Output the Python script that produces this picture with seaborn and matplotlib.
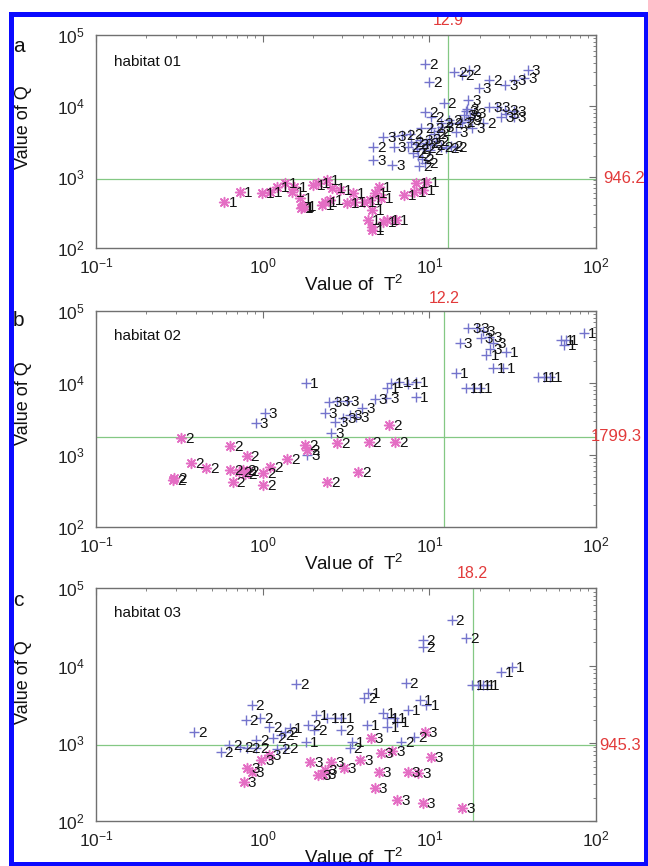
import numpy as np
import pandas as pd
import matplotlib
matplotlib.use('Agg')
import matplotlib.pyplot as plt
import matplotlib.transforms as mtransforms
from matplotlib.patches import Rectangle
import seaborn as sns

# ---------------- data ----------------
# habitat 01
a_plus_t2 = [9.4, 10.0, 14.1, 15.6, 17.2, 19.8, 22.8, 28.6, 32, 37,
             39, 17.1, 12.2, 9.4, 10.2, 13.1, 11.7, 22.8, 25.6, 28.6,
             32, 32, 29, 27, 21, 18.1, 14.4, 16.1, 16.5, 17.1,
             15.2, 16.8, 17.5, 15.8, 18.5, 13.4, 11.9, 10.2, 8.9, 11.3,
             5.3, 6.1, 6.9, 7.7, 4.6, 6.1, 7.4, 4.6, 6.0, 7.8,
             8.3, 8.8, 9.2, 9.6, 10.1, 8.0, 8.6, 9.0, 9.4, 8.4,
             9.9, 10.4, 8.7, 11.7, 12.6, 13.4, 14.2, 11.0, 10.6]
a_plus_q = [39100, 22000, 30100, 27000, 32000, 17900, 23200, 19800, 23200, 25000,
            32100, 12200, 11000, 8200, 7000, 6350, 5700, 9700, 9700, 8800,
            8400, 7000, 7800, 7000, 5760, 4900, 4300, 7400, 8500, 6300,
            5700, 9200, 7000, 6000, 8000, 5700, 5100, 4900, 4900, 4400,
            3660, 3800, 3900, 4000, 2650, 2650, 2650, 1730, 1470, 3100,
            2900, 3300, 2600, 3000, 2400, 2200, 2000, 1800, 1600, 2500,
            3400, 2800, 1450, 2650, 2600, 2700, 2650, 3200, 4000]
a_plus_lab = [2, 2, 2, 2, 2, 3, 2, 3, 3, 3,
              3, 3, 2, 2, 2, 2, 2, 3, 3, 3,
              3, 3, 3, 3, 2, 3, 3, 3, 3, 3,
              3, 3, 3, 2, 3, 2, 3, 2, 2, 2,
              3, 3, 2, 2, 2, 3, 2, 3, 3, 2,
              2, 3, 2, 2, 2, 2, 2, 2, 2, 2,
              3, 2, 2, 2, 2, 2, 2, 2, 2]
a_star_t2 = [0.59, 0.73, 0.99, 1.11, 1.22, 1.36, 1.50, 1.55, 1.68, 1.73,
             1.70, 1.76, 2.01, 2.15, 2.44, 2.62, 2.37, 2.28, 2.55, 2.92,
             3.2, 3.5, 3.55, 4.04, 4.4, 4.7, 4.97, 5.1, 4.5, 4.3,
             4.5, 4.55, 5.6, 6.3, 7.0, 8.1, 8.3, 9.1, 9.6, 5.3]
a_star_q = [449, 621, 595, 610, 720, 820, 610, 720, 505, 378,
            370, 390, 770, 820, 900, 700, 445, 400, 470, 655,
            430, 595, 450, 440, 474, 595, 720, 510, 343, 248,
            180, 200, 248, 248, 560, 615, 820, 650, 840, 230]
a_star_lab = [1] * len(a_star_t2)

# habitat 02
b_plus_t2 = [1.82, 1.03, 0.91, 2.36, 2.50, 2.81, 3.2, 2.72, 3.05, 3.33,
             3.63, 3.96, 2.57, 1.85, 4.7, 5.5, 5.6, 5.9, 6.6, 7.4,
             8.3, 8.3, 14.5, 15.2, 17.1, 19.2, 20.9, 20.3, 22.8, 24.2,
             22.0, 23.0, 28.7, 24.2, 27.8, 16.6, 18.3, 20.2, 45, 49,
             53, 62, 64, 66, 85]
b_plus_q = [10100, 3870, 2810, 3790, 5500, 5650, 5650, 2900, 3230, 3590,
            3400, 4450, 2000, 1000, 6000, 6100, 8440, 10000, 10300, 9800,
            10300, 6400, 13600, 35600, 57500, 57500, 53000, 41700, 43000, 35600,
            24500, 29700, 27300, 16000, 16000, 8440, 8440, 8440, 12200, 12200,
            12200, 39500, 33700, 39500, 49000]
b_plus_lab = [1, 3, 3, 3, 3, 3, 3, 3, 3, 3,
              3, 3, 3, 3, 3, 3, 1, 1, 1, 1,
              1, 1, 1, 3, 3, 3, 3, 3, 3, 3,
              1, 3, 1, 1, 1, 1, 1, 1, 1, 1,
              1, 1, 1, 1, 1]
b_star_t2 = [0.324, 0.372, 0.459, 0.289, 0.293, 0.635, 0.635, 0.66, 0.80, 0.72,
             0.76, 0.80, 0.78, 1.01, 1.01, 1.11, 1.40, 1.80, 1.85, 2.43,
             2.81, 4.32, 3.73, 5.74, 6.26]
b_star_q = [1710, 782, 653, 450, 475, 1334, 620, 427, 968, 580,
            620, 590, 540, 556, 383, 688, 870, 1377, 1170, 427,
            1450, 1500, 586, 2610, 1510]
b_star_lab = [2] * len(b_star_t2)

# habitat 03
c_plus_t2 = [13.6, 16.6, 9.1, 9.1, 27, 31.2, 18.1, 19.7, 20.9, 22.1,
             1.58, 7.2, 4.06, 4.3, 8.8, 9.6, 7.4, 5.27, 5.6, 6.1,
             6.4, 4.2, 5.6, 0.86, 0.79, 0.97, 1.09, 0.386, 0.56, 0.63,
             0.73, 0.81, 0.91, 0.91, 1.15, 1.29, 1.37, 1.45, 1.22, 1.37,
             2.1, 1.87, 2.04, 1.82, 2.43, 2.72, 2.97, 2.97, 3.43, 3.33,
             6.8, 8.1]
c_plus_q = [38600, 22500, 21300, 17500, 8350, 9600, 5620, 5620, 5620, 5620,
            5800, 5970, 3800, 4400, 3610, 3110, 2690, 2430, 2100, 2100,
            1900, 1720, 1640, 3110, 2000, 2100, 1640, 1410, 780, 950,
            900, 880, 870, 1100, 1160, 1280, 1410, 1560, 850, 870,
            2320, 1720, 1490, 1050, 2100, 2100, 2100, 1490, 1050, 860,
            1050, 1220]
c_plus_lab = [2, 2, 2, 2, 1, 1, 1, 1, 1, 1,
              2, 2, 2, 1, 1, 1, 1, 1, 1, 1,
              1, 1, 1, 2, 2, 2, 2, 2, 2, 2,
              2, 2, 2, 2, 2, 2, 2, 1, 2, 2,
              1, 2, 2, 1, 1, 1, 1, 2, 1, 2,
              2, 2]
c_star_t2 = [0.77, 0.81, 0.86, 0.98, 1.09, 1.93, 2.16, 2.36, 2.58, 3.06,
             3.85, 4.44, 5.1, 4.98, 4.7, 6.4, 7.4, 8.6, 9.4, 10.2,
             9.1, 15.7, 2.3, 6.0]
c_star_q = [320, 476, 432, 610, 706, 580, 390, 453, 580, 476,
            610, 1160, 743, 432, 263, 186, 432, 411, 1410, 673,
            169, 146, 400, 800]
c_star_lab = [3] * len(c_star_t2)

habitats = ['habitat 01', 'habitat 02', 'habitat 03']
panel_letters = ['a', 'b', 'c']
t2_limits = [12.9, 12.2, 18.2]
q_limits = [946.2, 1799.3, 945.3]

# ---------------- style ----------------
sns.set_style('white')
plt.rcParams['font.family'] = ['Liberation Sans', 'DejaVu Sans']
plt.rcParams['mathtext.fontset'] = 'custom'
plt.rcParams['mathtext.rm'] = 'Liberation Sans'
plt.rcParams['mathtext.it'] = 'Liberation Sans:italic'
plt.rcParams['mathtext.bf'] = 'Liberation Sans:bold'
plt.rcParams['axes.unicode_minus'] = False

plus_color = '#7474cc'
star_color = '#e46ec4'
line_color = '#84c884'
red = '#e23a3a'
spine_color = '#707070'

W, H = 648, 866
fig = plt.figure(figsize=(W / 100, H / 100), dpi=100)

# axes boxes in pixels (top, bottom)
boxes = [(35, 248), (311, 527), (588, 821)]
left_px, right_px = 96, 596
ylab_y = [0.568, 0.574, 0.594]
xlab_y = [-0.125, -0.124, -0.115]
vlab_y = [1.07, 1.06, 1.064]
hlab_x = [1.014, 0.99, 1.006]
letter_y = [47, 320, 601]
hab_y = [0.873, 0.884, 0.893]

panels = [
    (a_plus_t2, a_plus_q, a_plus_lab, a_star_t2, a_star_q, a_star_lab),
    (b_plus_t2, b_plus_q, b_plus_lab, b_star_t2, b_star_q, b_star_lab),
    (c_plus_t2, c_plus_q, c_plus_lab, c_star_t2, c_star_q, c_star_lab),
]

for i, (pt, pq, pl, st, sq, sl) in enumerate(panels):
    top, bot = boxes[i]
    ax = fig.add_axes([left_px / W, 1 - bot / H, (right_px - left_px) / W, (bot - top) / H])

    df_plus = pd.DataFrame({'T2': pt, 'Q': pq, 'cluster': pl})
    df_star = pd.DataFrame({'T2': st, 'Q': sq, 'cluster': sl})

    sns.scatterplot(data=df_plus, x='T2', y='Q', marker='+', color=plus_color,
                    s=60, linewidth=1.0, ax=ax, zorder=3)
    sns.scatterplot(data=df_star, x='T2', y='Q', marker=(8, 2, 0), color=star_color,
                    s=50, linewidth=1.1, ax=ax, zorder=3)

    off = mtransforms.offset_copy(ax.transData, fig=fig, x=4, y=-1, units='dots')
    for df in (df_plus, df_star):
        for x, y, lab in zip(df['T2'], df['Q'], df['cluster']):
            ax.text(x, y, str(lab), transform=off, ha='left', va='center',
                    fontsize=11, color='#111111', zorder=4)

    ax.set_xscale('log')
    ax.set_yscale('log')
    ax.set_xlim(0.1, 100)
    ax.set_ylim(100, 1e5)

    ax.axvline(t2_limits[i], color=line_color, lw=0.9, zorder=2)
    ax.axhline(q_limits[i], color=line_color, lw=0.9, zorder=2)

    tv = mtransforms.blended_transform_factory(ax.transData, ax.transAxes)
    ax.text(t2_limits[i], vlab_y[i], f'{t2_limits[i]:.1f}', transform=tv,
            ha='center', va='center', color=red, fontsize=11.5, clip_on=False)
    th = mtransforms.blended_transform_factory(ax.transAxes, ax.transData)
    ax.text(hlab_x[i], q_limits[i], f'{q_limits[i]:.1f}', transform=th,
            ha='left', va='center', color=red, fontsize=12, clip_on=False)

    ax.text(0.035, hab_y[i], habitats[i], transform=ax.transAxes,
            ha='left', va='center', fontsize=11, color='#111111')

    for sp in ax.spines.values():
        sp.set_color(spine_color)
        sp.set_linewidth(1.0)
    ax.tick_params(which='both', direction='in', top=True, right=True,
                   color=spine_color, labelcolor='#222222', labelsize=12.5)
    ax.tick_params(which='major', length=5, width=0.8)
    ax.tick_params(which='minor', length=2.5, width=0.6)
    ax.tick_params(axis='x', which='major', pad=6)
    ax.tick_params(axis='y', which='major', pad=8)

    ax.set_xlabel('Value of  T$^{2}$', fontsize=13.5, color='#111111')
    ax.xaxis.set_label_coords(0.515, xlab_y[i])
    ax.set_ylabel('Value of Q', fontsize=13, color='#111111')
    ax.yaxis.set_label_coords(-0.128, ylab_y[i])

    fig.text(13 / W, 1 - letter_y[i] / H, panel_letters[i], fontsize=15,
             ha='left', va='center', color='#111111')

# blue frame round the whole figure
frame = Rectangle((10.5 / W, 2 / H), (646 - 10.5) / W, (852 - 2) / H,
                  transform=fig.transFigure, fill=False, edgecolor='#0a0aff',
                  linewidth=3.6, zorder=10)
fig.patches.append(frame)

fig.savefig('out.png', dpi=100)
